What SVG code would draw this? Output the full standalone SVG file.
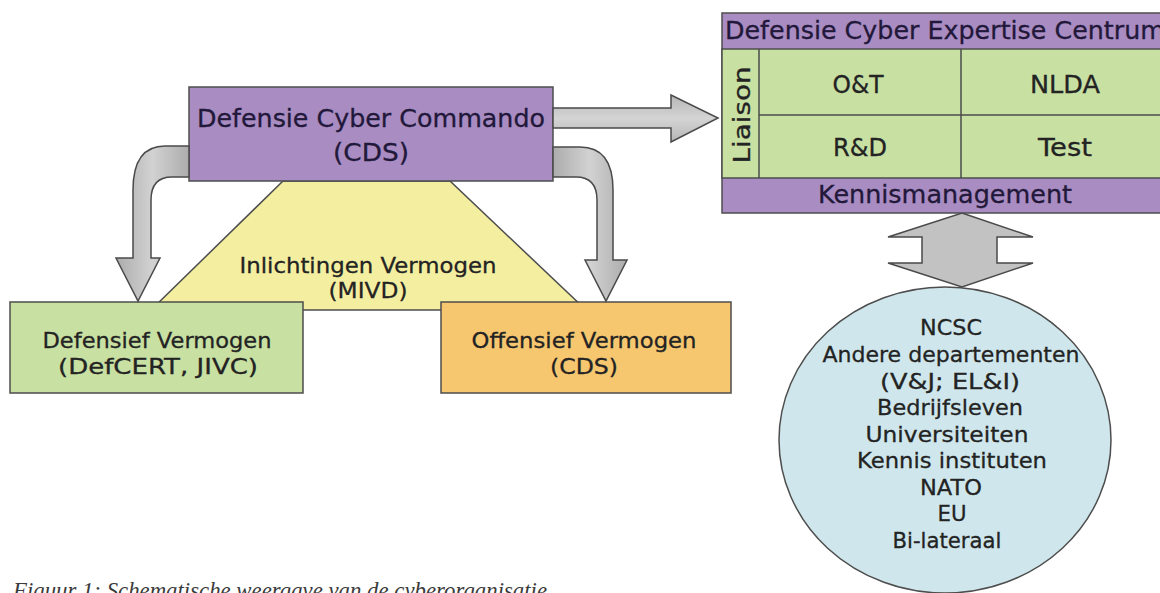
<svg xmlns="http://www.w3.org/2000/svg" width="1160" height="593" viewBox="0 0 1160 593">
<defs>
<linearGradient id="gv" x1="0" y1="0" x2="1" y2="0">
<stop offset="0" stop-color="#acacac"/><stop offset="0.5" stop-color="#d2d2d2"/><stop offset="1" stop-color="#acacac"/>
</linearGradient>
<linearGradient id="gh" x1="0" y1="0" x2="0" y2="1">
<stop offset="0" stop-color="#b6b6b6"/><stop offset="0.5" stop-color="#d4d4d4"/><stop offset="1" stop-color="#b6b6b6"/>
</linearGradient>
</defs>
<style>
.t{font-family:"DejaVu Sans",Verdana,sans-serif;fill:#232323;stroke:#232323;stroke-width:0.3;text-anchor:middle}
.tp{fill:#22183a;stroke:#22183a}
.box{stroke:#4d4d4d;stroke-width:1.5}
.purple{fill:#a98cc2}
.green{fill:#c8e0a2}
.arrow{stroke:#4a4a4a;stroke-width:1.5;stroke-linejoin:miter}
.line{stroke:#4d4d4d;stroke-width:1.5;fill:none}
</style>
<rect width="1160" height="593" fill="#ffffff"/>

<g id="inlichtingen">
<path d="M283 181 L450 181 L586 310 L151 310 Z" fill="#f4eea0" class="box"/>
<text class="t" x="368" y="273" font-size="22" textLength="257" lengthAdjust="spacingAndGlyphs">Inlichtingen Vermogen</text>
<text class="t" x="368" y="298" font-size="22" textLength="79" lengthAdjust="spacingAndGlyphs">(MIVD)</text>
</g>

<g id="defensief">
<rect x="10" y="302" width="293" height="91" class="box green"/>
<text class="t" x="157" y="348" font-size="22" textLength="229" lengthAdjust="spacingAndGlyphs">Defensief Vermogen</text>
<text class="t" x="158" y="374" font-size="22" textLength="200" lengthAdjust="spacingAndGlyphs">(DefCERT, JIVC)</text>
</g>

<g id="offensief">
<rect x="441" y="302" width="290" height="91" fill="#f7c770" class="box"/>
<text class="t" x="584" y="348" font-size="22" textLength="225" lengthAdjust="spacingAndGlyphs">Offensief Vermogen</text>
<text class="t" x="584" y="374" font-size="22" textLength="68" lengthAdjust="spacingAndGlyphs">(CDS)</text>
</g>

<g id="commando">
<rect x="189" y="87" width="364" height="94" class="box purple"/>
<text class="t tp" x="371" y="127" font-size="25" textLength="348" lengthAdjust="spacingAndGlyphs">Defensie Cyber Commando</text>
<text class="t tp" x="371" y="161" font-size="25" textLength="76" lengthAdjust="spacingAndGlyphs">(CDS)</text>
</g>

<g id="connectors">
<path class="arrow" fill="url(#gh)" d="M553 108 L671 108 L671 95 L718 118 L671 142 L671 128 L553 128 Z"/>
<path class="arrow" fill="url(#gv)" d="M189 146 L165 146 Q133 146 133 190 L133 258 L116 258 L138 301 L160 258 L151 258 L151 200 Q151 177 172 177 L189 177 Z"/>
<path class="arrow" fill="url(#gv)" d="M553 147 L580 147 Q613 147 613 190 L613 260 L627 260 L606 301 L585 260 L597 260 L597 200 Q597 177 576 177 L553 177 Z"/>
<path class="arrow" fill="#c2c2c2" d="M962 213 L1033 237 L997 237 L997 263 L1033 263 L962 287 L888 263 L922 263 L922 237 L888 237 Z"/>
</g>

<g id="expertise">
<rect x="722" y="13" width="450" height="200" class="box purple"/>
<rect x="722" y="49" width="450" height="129" class="box green"/>
<line class="line" x1="759" y1="49" x2="759" y2="178"/>
<line class="line" x1="961" y1="49" x2="961" y2="178"/>
<line class="line" x1="759" y1="115" x2="1172" y2="115"/>
<text class="t tp" x="725" y="39" font-size="25" style="text-anchor:start" textLength="440" lengthAdjust="spacingAndGlyphs">Defensie Cyber Expertise Centrum</text>
<text class="t" transform="translate(750,115) rotate(-90)" font-size="23" textLength="97" lengthAdjust="spacingAndGlyphs">Liaison</text>
<text class="t" x="858" y="93" font-size="24" textLength="51" lengthAdjust="spacingAndGlyphs">O&amp;T</text>
<text class="t" x="1065" y="93" font-size="24" textLength="70" lengthAdjust="spacingAndGlyphs">NLDA</text>
<text class="t" x="860" y="156" font-size="24" textLength="54" lengthAdjust="spacingAndGlyphs">R&amp;D</text>
<text class="t" x="1065" y="156" font-size="24" textLength="54" lengthAdjust="spacingAndGlyphs">Test</text>
<text class="t tp" x="945" y="203" font-size="24" textLength="254" lengthAdjust="spacingAndGlyphs">Kennismanagement</text>
</g>

<g id="partners">
<ellipse cx="945" cy="440" rx="166" ry="153" fill="#cfe7ec" class="box"/>
<text class="t" x="951" y="335" font-size="22" textLength="62" lengthAdjust="spacingAndGlyphs">NCSC</text>
<text class="t" x="951" y="362" font-size="22" textLength="257" lengthAdjust="spacingAndGlyphs">Andere departementen</text>
<text class="t" x="950" y="389" font-size="22" textLength="140" lengthAdjust="spacingAndGlyphs">(V&amp;J; EL&amp;I)</text>
<text class="t" x="950" y="415" font-size="22" textLength="146" lengthAdjust="spacingAndGlyphs">Bedrijfsleven</text>
<text class="t" x="947" y="442" font-size="22" textLength="163" lengthAdjust="spacingAndGlyphs">Universiteiten</text>
<text class="t" x="952" y="468" font-size="22" textLength="190" lengthAdjust="spacingAndGlyphs">Kennis instituten</text>
<text class="t" x="951" y="495" font-size="22" textLength="62" lengthAdjust="spacingAndGlyphs">NATO</text>
<text class="t" x="952" y="521" font-size="22" textLength="29" lengthAdjust="spacingAndGlyphs">EU</text>
<text class="t" x="947" y="548" font-size="22" textLength="109" lengthAdjust="spacingAndGlyphs">Bi-lateraal</text>
</g>

<g id="caption">
<text x="13" y="598" font-family="'Liberation Serif',serif" font-style="italic" font-size="23" fill="#3a3a3a" textLength="534" lengthAdjust="spacingAndGlyphs">Figuur 1: Schematische weergave van de cyberorganisatie</text>
</g>
</svg>
